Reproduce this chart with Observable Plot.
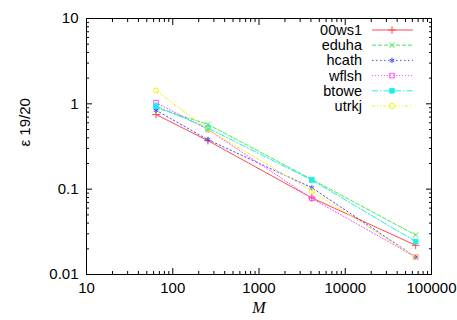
<!DOCTYPE html>
<html><head><meta charset="utf-8">
<script src="https://cdn.jsdelivr.net/npm/d3@7"></script>
<script src="https://cdn.jsdelivr.net/npm/@observablehq/plot@0.6"></script>
<style>body{margin:0;background:#fff}</style>
</head><body><div id="chart"></div>
<script>
// ---- data ----
const M = [64, 256, 4096, 65536];
const seriesNames = ["00ws1", "eduha", "hcath", "wflsh", "btowe", "utrkj"];
const v00ws1 = [0.75, 0.37, 0.079, 0.022];
const veduha = [0.90, 0.575, 0.130, 0.029];
const vhcath = [0.84, 0.38, 0.104, 0.016];
const vwflsh = [1.03, 0.50, 0.078, 0.016];
const vbtowe = [0.94, 0.52, 0.128, 0.0243];
const vutrkj = [1.43, 0.50, 0.095, 0.016];
const xTickLabels = [10, 100, 1000, 10000, 100000];
const yTickLabels = [0.01, 0.1, 1, 10];
const xLabel = "M";
const yLabel = "ε 19/20";

// ---- styles ----
const seriesValues = [v00ws1, veduha, vhcath, vwflsh, vbtowe, vutrkj];
const colors = ["#ff4a4a", "#4cec4c", "#4a4aff", "#ff4cff", "#20ecec", "#f0f020"];
const dashes = [null, "4,2", "1.5,2.5", "1,2", "6,2,1.5,2", "3,2,1,2,1,2"];
const symbols = ["plus", "times", "asterisk", "square", "square", "circle"];
const fills = ["none", "none", "none", "none", "fill", "none"];

const minorOf = (majors) => {
  const out = [];
  for (let i = 0; i < majors.length - 1; i++)
    for (let k = 2; k <= 9; k++) out.push(majors[i] * k);
  return out;
};
const xMinor = minorOf(xTickLabels);
const yMinor = minorOf(yTickLabels);

const FONT = "'Liberation Sans', Arial, Helvetica, sans-serif";
const blank = () => "";
const R = 2.6;

const marks = [
  Plot.frame({stroke: "#000", strokeWidth: 1}),
  Plot.axisX({anchor: "bottom", ticks: xTickLabels, tickSize: 0, tickPadding: 8, tickFormat: d => String(d), label: null}),
  Plot.axisY({anchor: "left", ticks: yTickLabels, tickSize: 0, tickPadding: 8, tickFormat: d => String(d), label: null}),
];
for (const anchor of ["bottom", "top"]) {
  marks.push(Plot.axisX({anchor, ticks: xTickLabels, tickSize: -6, tickFormat: blank, label: null}));
  marks.push(Plot.axisX({anchor, ticks: xMinor, tickSize: -3, tickFormat: blank, label: null}));
}
for (const anchor of ["left", "right"]) {
  marks.push(Plot.axisY({anchor, ticks: yTickLabels, tickSize: -6, tickFormat: blank, label: null}));
  marks.push(Plot.axisY({anchor, ticks: yMinor, tickSize: -3, tickFormat: blank, label: null}));
}
seriesNames.forEach((name, i) => {
  const rows = M.map((m, j) => ({M: m, v: seriesValues[i][j]}));
  marks.push(Plot.line(rows, {x: "M", y: "v", stroke: colors[i], strokeWidth: 1, strokeDasharray: dashes[i]}));
  marks.push(Plot.dot(rows, {x: "M", y: "v", symbol: symbols[i], stroke: colors[i],
    fill: fills[i] === "fill" ? colors[i] : "none", r: R, strokeWidth: 1}));
});
marks.push(Plot.text([xLabel], {frameAnchor: "bottom", dy: 38, fontStyle: "italic",
  fontFamily: "'Liberation Serif', 'Times New Roman', serif", fontSize: 16, text: d => d}));
marks.push(Plot.text([yLabel], {frameAnchor: "left", dx: -61, rotate: -90, fontSize: 15, text: d => d}));

const chart = Plot.plot({
  width: 457, height: 320,
  marginLeft: 86, marginRight: 26, marginTop: 18, marginBottom: 46,
  style: {fontFamily: FONT, fontSize: "15px", color: "#000", background: "#fff", overflow: "visible"},
  x: {type: "log", domain: [10, 100000]},
  y: {type: "log", domain: [0.01, 10]},
  marks
});
document.getElementById("chart").appendChild(chart);

// ---- legend (inside the frame, top-right) ----
const svg = d3.select(chart);
const symMap = {plus: d3.symbolPlus, times: d3.symbolTimes, asterisk: d3.symbolAsterisk, square: d3.symbolSquare, circle: d3.symbolCircle};
const lg = svg.append("g").attr("class", "legend");
seriesNames.forEach((name, i) => {
  const y = 30 + i * 15.2;
  lg.append("text").attr("x", 362).attr("y", y).attr("dy", "0.35em").attr("text-anchor", "end")
    .attr("font-size", 14.5).attr("font-family", FONT).attr("fill", "#000").text(name);
  const line = lg.append("line").attr("x1", 372).attr("x2", 413).attr("y1", y).attr("y2", y)
    .attr("stroke", colors[i]).attr("stroke-width", 1);
  if (dashes[i]) line.attr("stroke-dasharray", dashes[i]);
  lg.append("path").attr("transform", `translate(392,${y})`)
    .attr("d", d3.symbol(symMap[symbols[i]], Math.PI * R * R)())
    .attr("stroke", colors[i]).attr("fill", fills[i] === "fill" ? colors[i] : "none").attr("stroke-width", 1);
});
</script>
</body></html>
